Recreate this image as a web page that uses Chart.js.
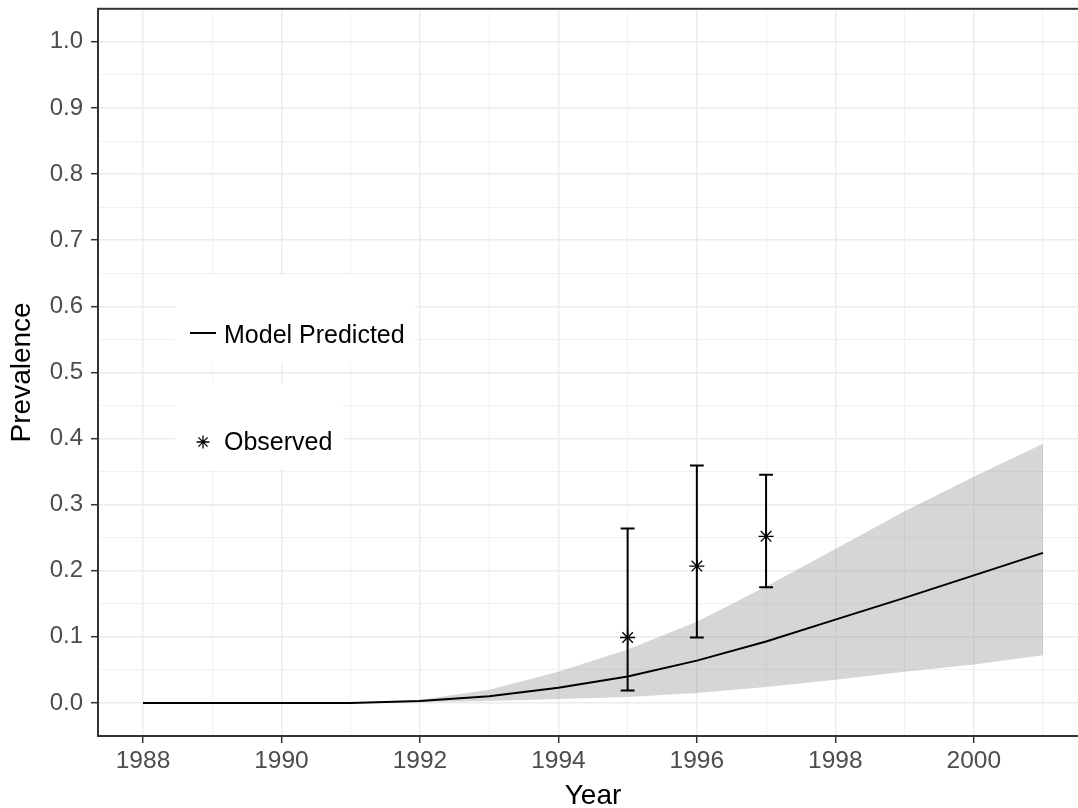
<!DOCTYPE html>
<html>
<head>
<meta charset="utf-8">
<script src="https://cdn.jsdelivr.net/npm/chart.js@4.4.1/dist/chart.umd.min.js"></script>
<style>
  html, body { margin: 0; padding: 0; background: #fff; overflow: hidden; }
  #wrap { position: absolute; left: 0; top: 0; width: 1100px; height: 808px; }
</style>
</head>
<body>
<div id="wrap"><canvas id="prevChart" width="1100" height="808"></canvas></div>
<script>
// model output, one value per year
const years = [1988, 1989, 1990, 1991, 1992, 1993, 1994, 1995, 1996, 1997, 1998, 1999, 2000, 2001];
const predicted = [0, 0, 0, 0, 0.003, 0.010, 0.023, 0.040, 0.064, 0.093, 0.126, 0.159, 0.193, 0.227];
const upperBand = [0, 0, 0, 0, 0.005, 0.020, 0.047, 0.081, 0.123, 0.176, 0.233, 0.290, 0.342, 0.392];
const lowerBand = [0, 0, 0, 0, 0.001, 0.003, 0.006, 0.009, 0.015, 0.024, 0.035, 0.047, 0.058, 0.072];

// survey points with their intervals
const obsYears = [1995, 1996, 1997];
const observed = [0.099, 0.207, 0.252];
const obsLow = [0.019, 0.099, 0.175];
const obsHigh = [0.264, 0.359, 0.345];

// axis breaks
const xBreaks = [1988, 1989, 1990, 1991, 1992, 1993, 1994, 1995, 1996, 1997, 1998, 1999, 2000, 2001];
const xLabelled = [1988, 1990, 1992, 1994, 1996, 1998, 2000];
const yBreaks = [0, 0.05, 0.1, 0.15, 0.2, 0.25, 0.3, 0.35, 0.4, 0.45, 0.5, 0.55, 0.6, 0.65, 0.7, 0.75, 0.8, 0.85, 0.9, 0.95, 1.0];
const yLabelled = ['0.0', '0.1', '0.2', '0.3', '0.4', '0.5', '0.6', '0.7', '0.8', '0.9', '1.0'];

const FONT = "'Liberation Sans', Arial, Helvetica, sans-serif";
const pts = (xs, ys) => xs.map((x, i) => ({ x: x, y: ys[i] }));
const isMajorY = v => Math.abs(v * 10 - Math.round(v * 10)) < 1e-6;

// error bars, drawn through the scales
const errorBars = {
  id: 'errorBars',
  afterDatasetsDraw(chart) {
    const c = chart.ctx, xs = chart.scales.x, ys = chart.scales.y;
    c.save();
    c.strokeStyle = '#000';
    c.lineWidth = 2;
    obsYears.forEach((yr, i) => {
      const x = xs.getPixelForValue(yr);
      const x0 = xs.getPixelForValue(yr - 0.1);
      const x1 = xs.getPixelForValue(yr + 0.1);
      const lo = ys.getPixelForValue(obsLow[i]);
      const hi = ys.getPixelForValue(obsHigh[i]);
      c.beginPath();
      c.moveTo(x, lo); c.lineTo(x, hi);
      c.moveTo(x0, lo); c.lineTo(x1, lo);
      c.moveTo(x0, hi); c.lineTo(x1, hi);
      c.stroke();
    });
    c.restore();
  }
};

// panel border + the two legend boxes
const panelAndLegend = {
  id: 'panelAndLegend',
  afterDraw(chart) {
    const c = chart.ctx, a = chart.chartArea;
    c.save();
    c.fillStyle = '#fff';
    c.fillRect(175, 275, 240, 88);
    c.fillRect(175, 383, 168, 86);
    // legend 1 - line key
    c.strokeStyle = '#000';
    c.lineWidth = 2;
    c.beginPath();
    c.moveTo(190, 333); c.lineTo(216, 333);
    c.stroke();
    c.fillStyle = '#000';
    c.font = '25px ' + FONT;
    c.textBaseline = 'alphabetic';
    c.textAlign = 'left';
    c.fillText(chart.data.datasets[3].label, 224, 343);
    // legend 2 - asterisk
    c.lineWidth = 1.3;
    const cx = 203, cy = 442, r = 6.5;
    const d = r * 0.7071;
    c.beginPath();
    c.moveTo(cx, cy - r); c.lineTo(cx, cy + r);
    c.moveTo(cx - r, cy); c.lineTo(cx + r, cy);
    c.moveTo(cx - d, cy - d); c.lineTo(cx + d, cy + d);
    c.moveTo(cx - d, cy + d); c.lineTo(cx + d, cy - d);
    c.stroke();
    c.fillText(chart.data.datasets[4].label, 224, 450);
    // panel border
    c.strokeStyle = '#333333';
    c.lineWidth = 2;
    c.strokeRect(a.left, a.top, a.right - a.left, a.bottom - a.top);
    c.restore();
  }
};

const ctx = document.getElementById('prevChart').getContext('2d');

const prevChart = new Chart(ctx, {
  type: 'line',
  data: {
    datasets: [
      {
        label: 'upper',
        data: pts(years, upperBand),
        borderWidth: 0,
        pointRadius: 0,
        fill: '+1',
        backgroundColor: 'rgba(153,153,153,0.4)',
        order: 4
      },
      {
        label: 'lower',
        data: pts(years, lowerBand),
        borderWidth: 0,
        pointRadius: 0,
        fill: false,
        order: 3
      },
      {
        label: 'none',
        data: [],
        order: 5
      },
      {
        label: 'Model Predicted',
        data: pts(years, predicted),
        borderColor: '#000',
        borderWidth: 2,
        pointRadius: 0,
        tension: 0,
        fill: false,
        order: 1
      },
      {
        label: 'Observed',
        data: pts(obsYears, observed),
        showLine: false,
        pointStyle: 'star',
        pointRadius: 7.5,
        pointBorderWidth: 1.3,
        borderColor: '#000',
        backgroundColor: '#000',
        order: 0
      }
    ]
  },
  options: {
    responsive: false,
    animation: false,
    devicePixelRatio: 1,
    layout: { padding: { left: 0, top: 8, right: 12, bottom: 0 } },
    plugins: {
      legend: { display: false },
      tooltip: { enabled: false }
    },
    scales: {
      x: {
        type: 'linear',
        min: 1987.35,
        max: 2001.65,
        afterBuildTicks: axis => { axis.ticks = xBreaks.map(v => ({ value: v })); },
        afterFit: scale => {
          scale.height = 72;
          scale.paddingLeft = 0; scale.paddingRight = 0;
        },
        border: { display: false },
        grid: {
          color: '#ebebeb',
          lineWidth: c => (c.tick && xLabelled.indexOf(c.tick.value) >= 0) ? 1.4 : 0.7,
          tickColor: c => (c.tick && xLabelled.indexOf(c.tick.value) >= 0) ? '#333333' : 'rgba(0,0,0,0)',
          tickLength: 7,
          tickWidth: 1.5
        },
        ticks: {
          autoSkip: false,
          maxRotation: 0,
          padding: 4,
          color: '#4d4d4d',
          font: { family: FONT, size: 24.5 },
          callback: v => xLabelled.indexOf(v) >= 0 ? String(v) : ''
        },
        title: {
          display: true,
          text: 'Year',
          color: '#000',
          font: { family: FONT, size: 28 },
          padding: { top: 0, bottom: -5 }
        }
      },
      y: {
        type: 'linear',
        min: -0.05,
        max: 1.05,
        afterBuildTicks: axis => { axis.ticks = yBreaks.map(v => ({ value: v })); },
        afterFit: scale => {
          scale.width = 98;
          scale.paddingTop = 0; scale.paddingBottom = 0;
        },
        border: { display: false },
        grid: {
          color: '#ebebeb',
          lineWidth: c => (c.tick && isMajorY(c.tick.value)) ? 1.4 : 0.7,
          tickColor: c => (c.tick && isMajorY(c.tick.value)) ? '#333333' : 'rgba(0,0,0,0)',
          tickLength: 7,
          tickWidth: 1.5
        },
        ticks: {
          autoSkip: false,
          padding: 8,
          color: '#4d4d4d',
          font: { family: FONT, size: 24 },
          callback: v => isMajorY(v) ? yLabelled[Math.round(v * 10)] : ''
        },
        title: {
          display: true,
          text: 'Prevalence',
          color: '#000',
          font: { family: FONT, size: 28 },
          padding: { top: 5, bottom: 0 }
        }
      }
    }
  },
  plugins: [errorBars, panelAndLegend]
});
</script>
</body>
</html>
